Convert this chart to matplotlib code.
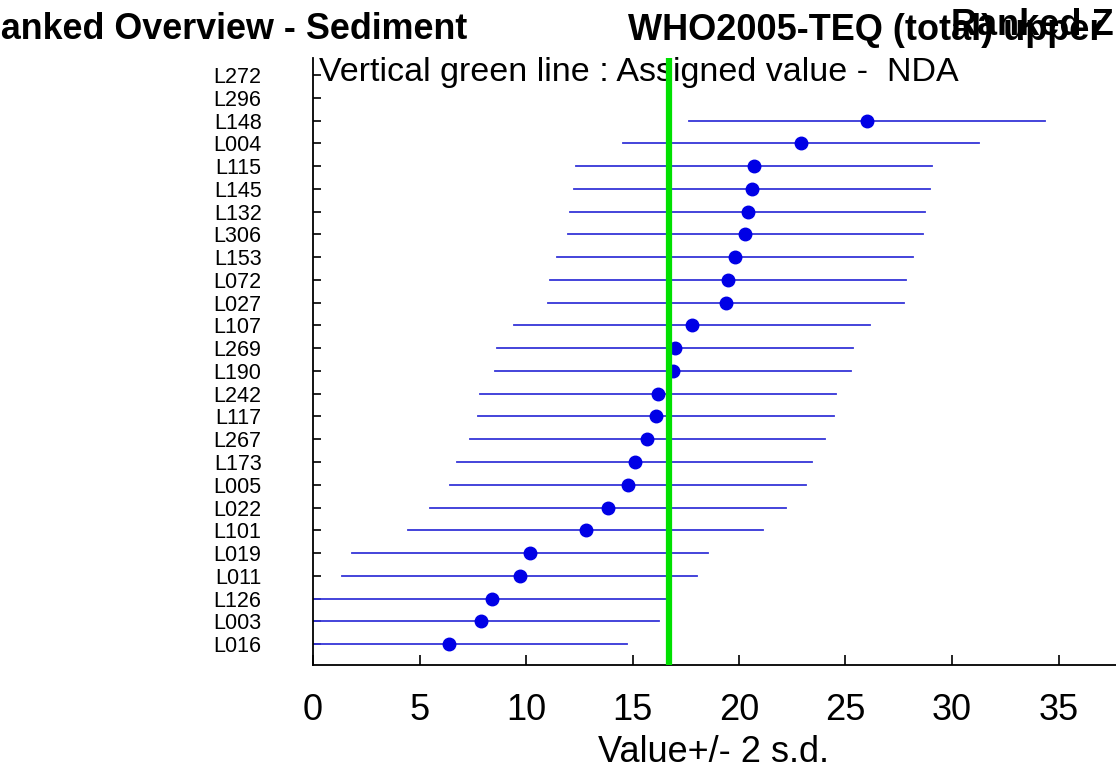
import matplotlib
matplotlib.use('Agg')
import matplotlib.pyplot as plt

FONT = 'Liberation Sans'

# === 数据 ===
labs = ['L016', 'L003', 'L126', 'L011', 'L019', 'L101', 'L022', 'L005', 'L173',
        'L267', 'L117', 'L242', 'L190', 'L269', 'L107', 'L027', 'L072', 'L153',
        'L306', 'L132', 'L145', 'L115', 'L004', 'L148', 'L296', 'L272']
vals = [6.4, 7.9, 8.4, 9.7, 10.2, 12.8, 13.85, 14.8, 15.1,
        15.7, 16.1, 16.2, 16.9, 17.0, 17.8, 19.4, 19.5, 19.8,
        20.3, 20.4, 20.6, 20.7, 22.9, 26.0, None, None]
two_sd = 8.35
assigned = 16.7

fig = plt.figure(figsize=(11.16, 7.75), dpi=100)
ax = fig.add_axes([313/1116, 110/775, 852/1116, (665-58)/775])

for i, v in enumerate(vals):
    if v is None:
        continue
    ax.plot([v - two_sd, v + two_sd], [i, i], color='#3535d8', lw=1.3, zorder=2)
    ax.plot(v, i, 'o', color='#0000e6', ms=9, zorder=3)
ax.axvline(assigned, color='#00e000', lw=4.5, zorder=4)

ax.set_xlim(0, 40)
ax.set_ylim(-0.92, 25.75)
ax.set_xticks(range(0, 40, 5))
ax.set_yticks(range(len(labs)))
ax.set_yticklabels(labs, family=FONT, fontsize=15.5)
for t in ax.get_xticklabels():
    t.set_family(FONT)
    t.set_fontsize(26)
ax.tick_params(axis='x', direction='in', length=7, width=1.2, pad=20)
ax.tick_params(axis='y', direction='in', length=6, width=1.2, pad=37)
for s in ['top', 'right']:
    ax.spines[s].set_visible(False)
for s in ['left', 'bottom']:
    ax.spines[s].set_linewidth(1.3)
ax.set_xlabel('Value+/- 2 s.d.', family=FONT, fontsize=26)
ax.xaxis.set_label_coords(0.47, -0.115)

# 标题（原图左侧被截断，右侧重叠）
fig.text(-25/1116, 0.962, 'Ranked Overview - Sediment', family=FONT,
         fontsize=25.8, fontweight='bold', va='center')
fig.text(628/1116, 0.960, 'WHO2005-TEQ (total) upper', family=FONT,
         fontsize=26, fontweight='bold', va='center')
fig.text(1114/1116, 0.967, 'Ranked Z', family=FONT, ha='right',
         fontsize=26, fontweight='bold', va='center')
ax.text(0.3, 25.1, 'Vertical green line : Assigned value -  NDA', family=FONT,
        fontsize=24.5, va='center')

fig.savefig('out.png', dpi=100)
